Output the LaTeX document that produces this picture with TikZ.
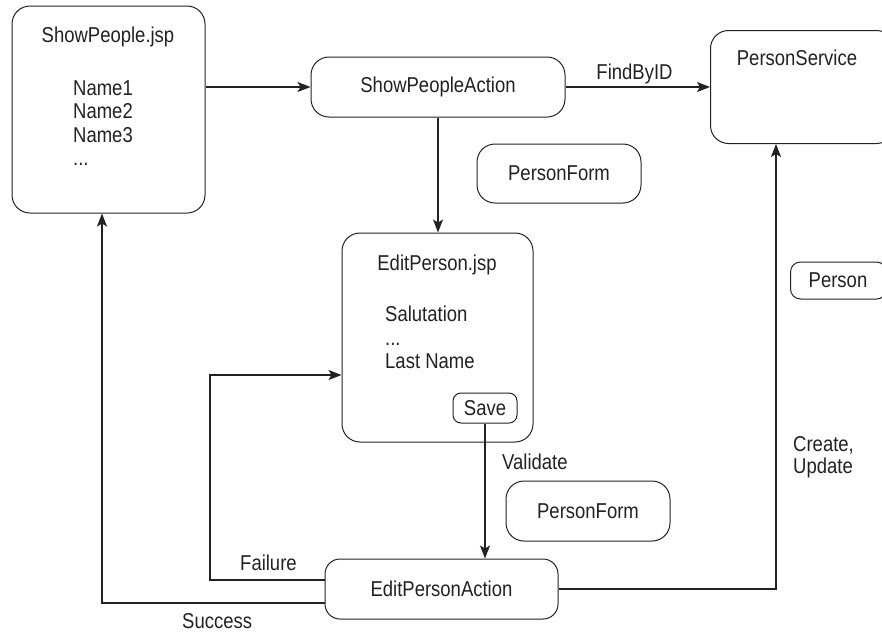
\documentclass[tikz,border=0pt]{standalone}
\usepackage{fontspec}
\setmainfont{Liberation Sans}[FakeStretch=0.86]
\usetikzlibrary{arrows.meta}
\definecolor{ink}{HTML}{222222}
\tikzset{
  every node/.style={font=\fontsize{21.5}{23.5}\selectfont, text=ink, inner sep=0pt},
  box/.style={draw=ink, line width=1pt, rounded corners=#1, fill=white},
  box/.default=18pt,
  flow/.style={draw=ink, line width=1.4pt, -{Stealth[length=13pt,width=10pt,inset=3pt]}},
}
\begin{document}
\begin{tikzpicture}[x=1pt,y=-1pt]
\useasboundingbox (0,0) rectangle (882,633);
\clip (0,0) rectangle (882,633);

% boxes
\node[box, minimum width=193pt, minimum height=207pt] (showjsp) at (108.5,109.5) {};
\node[box, minimum width=254pt, minimum height=60pt] (spa) at (438,87) {ShowPeopleAction};
\node[box, minimum width=184pt, minimum height=113pt, anchor=north west] (psvc) at (710,30) {};
\node[box, minimum width=164pt, minimum height=59pt] (pform1) at (559,173.5) {PersonForm};
\node[box, minimum width=191pt, minimum height=209pt] (epjsp) at (437.5,337.5) {};
\node[box=8pt, minimum width=64pt, minimum height=30pt] (save) at (485,408) {Save};
\node[box, minimum width=164pt, minimum height=60pt] (pform2) at (588,511) {PersonForm};
\node[box=15pt, minimum width=233pt, minimum height=60pt] (epa) at (441.5,589) {EditPersonAction};
\node[box=10pt, minimum width=96pt, minimum height=37pt, anchor=west] (person) at (790,280.5) {};
\node (persontxt) at (838,280.5) {Person};

% box contents
\node[anchor=base] (showtitle) at (108,42) {ShowPeople.jsp};
\node[anchor=base west] (n1) at (73,95) {Name1};
\node[anchor=base west] (n2) at (73,118.5) {Name2};
\node[anchor=base west] (n3) at (73,142) {Name3};
\node[anchor=base west] (n4) at (73,165) {...};
\node[anchor=base] (svctitle) at (797,65) {PersonService};
\node[anchor=base] (edittitle) at (437,270) {EditPerson.jsp};
\node[anchor=base west] (f1) at (385,321) {Salutation};
\node[anchor=base west] (f2) at (385,345) {...};
\node[anchor=base west] (f3) at (385,368) {Last Name};

% connector labels
\node[anchor=base] (findlbl) at (634.5,79) {FindByID};
\node[anchor=base west] (vallbl) at (502,469) {Validate};
\node[anchor=base west] (faillbl) at (240,570) {Failure};
\node[anchor=base west] (succlbl) at (182,628) {Success};
\node[anchor=base west] (crlbl) at (793,451) {Create,};
\node[anchor=base west] (uplbl) at (793,473) {Update};

% bend points
\coordinate (failbend) at (210,375);
\coordinate (succbend) at (102,603);
\coordinate (cu) at (776,143);

% connectors
\draw[flow] (spa.west -| showjsp.east) -- (spa.west);
\draw[flow] (spa.east) -- (spa.east -| psvc.west);
\draw[flow] (spa.south) -- (spa.south |- epjsp.north);
\draw[flow] (save.south) -- (save.south |- epa.north);
\draw[flow] ([yshift=9pt]epa.west) -| (failbend) -- (failbend -| epjsp.west);
\draw[flow] ([yshift=-14pt]epa.west) -- (succbend) -- (succbend |- showjsp.south);
\draw[flow] (epa.east) -| (cu |- psvc.south);
\end{tikzpicture}
\end{document}
